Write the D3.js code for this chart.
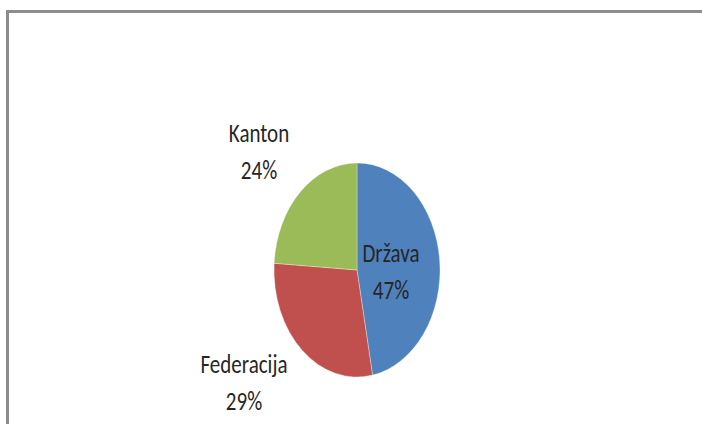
<!DOCTYPE html>
<html>
<head>
<meta charset="utf-8">
<script src="https://cdn.jsdelivr.net/npm/d3@7"></script>
<style>
  body { margin: 0; background: #fff; }
  text { font-family: Carlito, "Liberation Sans Narrow", "Open Sans", sans-serif; fill: #262626; }
</style>
</head>
<body>
<div id="chart"></div>
<script>
// Data
var categories = ["Država", "Federacija", "Kanton"];
var shares = [47, 29, 24];
var colors = ["#4F81BD", "#C0504D", "#9BBB59"];

// label offsets (first baseline) from the pie centre, measured in px
var labelDx = [34, -113, -98];
var labelDy = [-8, 103, -128];

var width = 702, height = 424;
var cx = 357, cy = 270;
var rx = 83, ry = 107;
var stretch = 1.29;

var svg = d3.select("#chart").append("svg")
    .attr("width", width)
    .attr("height", height);

// Chart frame (only top and left edges visible)
svg.append("path")
    .attr("d", "M7.5,424 V11.5 H702")
    .attr("fill", "none")
    .attr("stroke", "#8c8c8c")
    .attr("stroke-width", 3);

var pie = d3.pie().sort(null).value(d => d);
var arcs = pie(shares);

var arc = d3.arc().innerRadius(0).outerRadius(ry);

// Pie is drawn as a circle and squeezed horizontally
var g = svg.append("g")
    .attr("transform", `translate(${cx},${cy}) scale(${rx / ry},1)`);

g.selectAll(".slice")
    .data(arcs)
    .enter().append("path")
    .attr("class", "slice")
    .attr("d", arc)
    .attr("fill", (d, i) => colors[i])
    .attr("stroke", "#fff")
    .attr("stroke-width", 0.6)
    .attr("stroke-opacity", 0.6);

// Labels (text is stretched vertically like the rest of the picture)
var labels = svg.selectAll(".lbl")
    .data(arcs)
    .enter().append("g")
    .attr("class", "lbl")
    .attr("transform", (d, i) => `translate(${cx + labelDx[i]},${cy + labelDy[i]}) scale(1,${stretch})`);

labels.append("text")
    .attr("text-anchor", "middle")
    .attr("y", 0)
    .attr("font-size", 21)
    .text((d, i) => categories[i]);

labels.append("text")
    .attr("text-anchor", "middle")
    .attr("y", 37 / stretch)
    .attr("font-size", 21)
    .text((d, i) => shares[i] + "%");
</script>
</body>
</html>
